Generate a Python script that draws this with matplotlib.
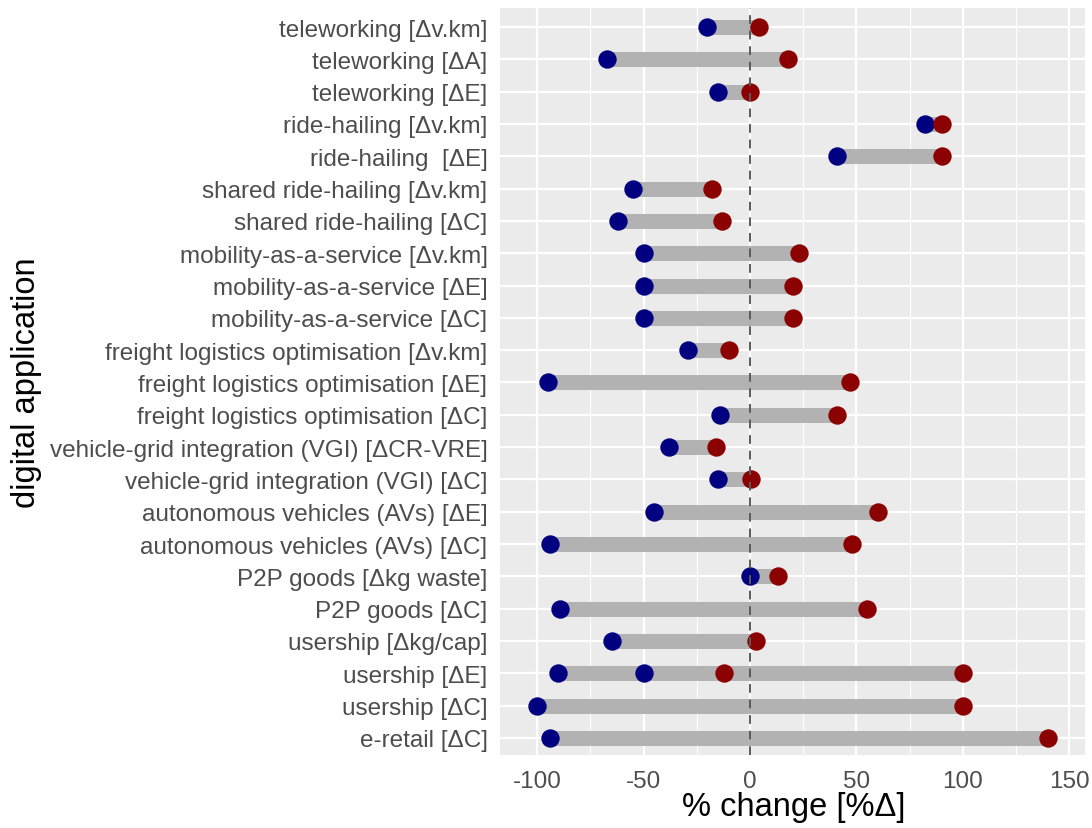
import matplotlib
matplotlib.use("Agg")
import matplotlib.pyplot as plt
from matplotlib.ticker import MultipleLocator

# ---- data ----
categories = [
    "teleworking [Δv.km]",
    "teleworking [ΔA]",
    "teleworking [ΔE]",
    "ride-hailing [Δv.km]",
    "ride-hailing  [ΔE]",
    "shared ride-hailing [Δv.km]",
    "shared ride-hailing [ΔC]",
    "mobility-as-a-service [Δv.km]",
    "mobility-as-a-service [ΔE]",
    "mobility-as-a-service [ΔC]",
    "freight logistics optimisation [Δv.km]",
    "freight logistics optimisation [ΔE]",
    "freight logistics optimisation [ΔC]",
    "vehicle-grid integration (VGI) [ΔCR-VRE]",
    "vehicle-grid integration (VGI) [ΔC]",
    "autonomous vehicles (AVs) [ΔE]",
    "autonomous vehicles (AVs) [ΔC]",
    "P2P goods [Δkg waste]",
    "P2P goods [ΔC]",
    "usership [Δkg/cap]",
    "usership [ΔE]",
    "usership [ΔC]",
    "e-retail [ΔC]",
]
low_values = [-20, -67, -15, 82, 41, -55, -62, -50, -50, -50, -29, -95, -14,
              -38, -15, -45, -94, 0, -89, -65, -90, -100, -94]
high_values = [4, 18, 0, 90, 90, -18, -13, 23, 20, 20, -10, 47, 41,
               -16, 0.5, 60, 48, 13, 55, 3, 100, 100, 140]
# second study reported for one application
extra_categories = ["usership [ΔE]"]
extra_low = [-50]
extra_high = [-12]

x_ticks = [-100, -50, 0, 50, 100, 150]
x_label = "% change [%Δ]"
y_label = "digital application"

# ---- style ----
plt.rcParams['font.family'] = ['Liberation Sans', 'DejaVu Sans']
low_color = "#000080"
high_color = "#8B0000"
seg_color = "#B2B2B2"
panel_bg = "#EBEBEB"

W, H = 1092, 829
fig = plt.figure(figsize=(W/100, H/100), dpi=100)
ax = fig.add_axes([500/W, (H-756)/H, 585/W, 747/H])
ax.set_facecolor(panel_bg)

pos = {c: i for i, c in enumerate(categories)}
ys = [pos[c] for c in categories]
eys = [pos[c] for c in extra_categories]

ax.hlines(ys, low_values, high_values, color=seg_color, linewidth=10.8,
          zorder=3, capstyle='butt')
ax.hlines(eys, extra_low, extra_high, color=seg_color, linewidth=10.8,
          zorder=3, capstyle='butt')

ax.scatter(low_values, ys, s=175, color=low_color, zorder=4, linewidths=0)
ax.scatter(extra_low, eys, s=175, color=low_color, zorder=4, linewidths=0)
ax.scatter(high_values, ys, s=175, color=high_color, zorder=4, linewidths=0)
ax.scatter(extra_high, eys, s=175, color=high_color, zorder=4, linewidths=0)

ax.axvline(0, color="#5A5A5A", linewidth=1.4, linestyle=(0, (4.5, 3.5)), zorder=5)

ax.set_xlim(-117.4, 157.3)
ax.set_ylim(len(categories) - 1 + 0.53, -0.59)
ax.set_xticks(x_ticks)
ax.set_xticklabels([str(t) for t in x_ticks])
ax.xaxis.set_minor_locator(MultipleLocator(25))
ax.set_yticks(range(len(categories)))
ax.set_yticklabels(categories)

ax.grid(which='major', color='white', linewidth=1.6, zorder=1)
ax.grid(which='minor', axis='x', color='white', linewidth=0.8, zorder=1)
ax.set_axisbelow(True)
for s in ax.spines.values():
    s.set_visible(False)

ax.tick_params(axis='both', which='major', labelsize=17.5, labelcolor='#4D4D4D',
               length=0)
ax.tick_params(axis='x', which='minor', length=0)
ax.tick_params(axis='y', pad=9)
ax.tick_params(axis='x', pad=11)

fig.text(794/W, (H-808)/H, x_label, fontsize=23.5, color='black',
         ha='center', va='center')
fig.text(27/W, (H-383)/H, y_label, fontsize=23.5, color='black',
         ha='center', va='center', rotation=90)

fig.savefig("out.png", dpi=100)
